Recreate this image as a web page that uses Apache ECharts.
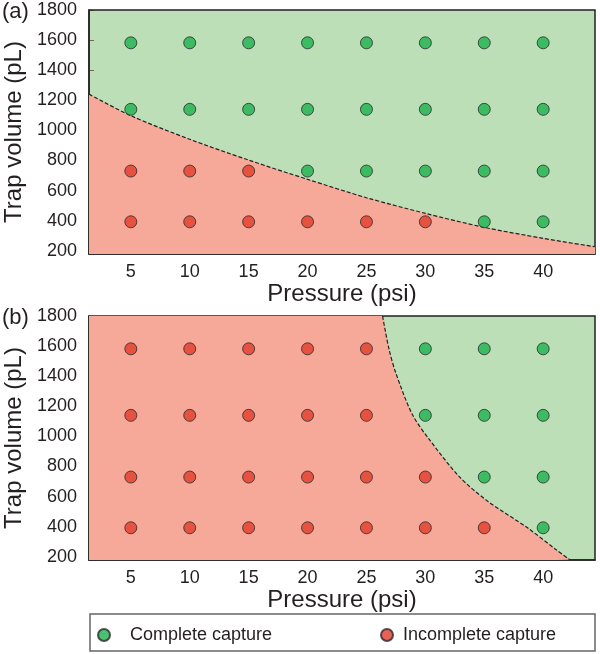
<!DOCTYPE html>
<html>
<head>
<meta charset="utf-8">
<script src="https://cdn.jsdelivr.net/npm/echarts@6/dist/echarts.min.js"></script>
<style>
html,body{margin:0;padding:0;background:#fff;}
#chart{width:600px;height:654px;}
</style>
</head>
<body>
<div id="chart"></div>
<script>
// ---- data ----
const pressures = [5, 10, 15, 20, 25, 30, 35, 40];
const volumes = [393, 730, 1140, 1582];
const xTicks = [5, 10, 15, 20, 25, 30, 35, 40];
const yTicks = [200, 400, 600, 800, 1000, 1200, 1400, 1600, 1800];
// 1 = complete capture, 0 = incomplete; rows follow volumes, columns follow pressures
const captureA = [
  [0, 0, 0, 0, 0, 0, 1, 1],
  [0, 0, 0, 1, 1, 1, 1, 1],
  [1, 1, 1, 1, 1, 1, 1, 1],
  [1, 1, 1, 1, 1, 1, 1, 1]
];
const captureB = [
  [0, 0, 0, 0, 0, 0, 0, 1],
  [0, 0, 0, 0, 0, 0, 1, 1],
  [0, 0, 0, 0, 0, 1, 1, 1],
  [0, 0, 0, 0, 0, 1, 1, 1]
];
// boundary curves
const boundaryAx = [1.45, 5, 10, 15, 20, 25, 30, 35, 40, 44.4];
const boundaryAy = [1241, 1098, 941, 803, 675, 553, 449, 356, 283, 227];
const boundaryBx = [26.37, 26.9, 27.5, 28.9, 30.38, 32.9, 35.2, 38.7, 41.14, 42.27];
const boundaryBy = [1800, 1585, 1420, 1145, 975, 731, 575, 391, 245, 180];
// incomplete-capture region of (b) left of where the boundary meets the top edge
const plateauBx = [1.45, 26.37, 26.9];
const plateauBy = [1800, 1800, 1585];

const xMin = 1.45, xMax = 44.4, yMin = 179, yMax = 1800;
const GREEN_BG = '#bcdfb8', RED_BG = '#f6a998';
const GREEN = '#1bb14c', RED = '#e23b2b';
const FONT = 'Liberation Sans, Arial, Helvetica, sans-serif';
const TXT = '#231f20';

function points(capture, flag) {
  const out = [];
  capture.forEach((row, i) => row.forEach((c, j) => { if (c === flag) out.push([pressures[j], volumes[i]]); }));
  return out;
}
function zip(xs, ys) { return xs.map((x, i) => [x, ys[i]]); }

const grids = [
  {left: 89, top: 10, width: 506, height: 244},
  {left: 89, top: 316, width: 506, height: 244}
];

function xAxis(idx) {
  return {
    type: 'value', gridIndex: idx, min: xMin, max: xMax,
    name: 'Pressure (psi)', nameLocation: 'middle', nameGap: 26,
    nameTextStyle: {fontFamily: FONT, fontSize: 24, color: TXT},
    axisLine: {show: true, onZero: false, lineStyle: {color: '#222', width: 1.5}},
    axisTick: {show: true, inside: true, length: 5, customValues: xTicks, lineStyle: {color: 'rgba(60,30,20,0.6)', width: 1}},
    axisLabel: {customValues: xTicks, fontFamily: FONT, fontSize: 18, color: TXT, margin: 9, formatter: v => String(v)},
    splitLine: {show: false}
  };
}
function yAxis(idx) {
  return {
    type: 'value', gridIndex: idx, min: yMin, max: yMax,
    name: 'Trap volume (pL)', nameLocation: 'middle', nameGap: 48,
    nameTextStyle: {fontFamily: FONT, fontSize: 24, color: TXT},
    axisLine: {show: true, onZero: false, lineStyle: {color: '#222', width: 1.5}},
    axisTick: {show: true, inside: true, length: 5, customValues: yTicks, lineStyle: {color: 'rgba(60,30,20,0.6)', width: 1}},
    axisLabel: {customValues: yTicks, fontFamily: FONT, fontSize: 18, color: TXT, margin: 12, formatter: v => String(v)},
    splitLine: {show: false}
  };
}

function panelSeries(idx, capture, bx, by, px, py) {
  const s = [
    {
      type: 'line', xAxisIndex: idx, yAxisIndex: idx, data: zip(bx, by),
      smooth: 0.3, symbol: 'none', silent: true,
      lineStyle: {color: '#222', width: 1.2, type: [4, 2]},
      areaStyle: {color: RED_BG, opacity: 1, origin: 'start'},
      z: 2
    },
    {
      name: 'Complete capture', type: 'scatter', xAxisIndex: idx, yAxisIndex: idx,
      data: points(capture, 1), symbolSize: 12,
      itemStyle: {color: GREEN, borderColor: '#2a2a2a', borderWidth: 1}, z: 5
    },
    {
      name: 'Incomplete capture', type: 'scatter', xAxisIndex: idx, yAxisIndex: idx,
      data: points(capture, 0), symbolSize: 12,
      itemStyle: {color: RED, borderColor: '#2a2a2a', borderWidth: 1}, z: 5
    }
  ];
  if (px) {
    s.push({
      type: 'line', xAxisIndex: idx, yAxisIndex: idx, data: zip(px, py),
      symbol: 'none', silent: true, lineStyle: {width: 0},
      areaStyle: {color: RED_BG, opacity: 1, origin: 'start'}, z: 1
    });
  }
  return s;
}

const chart = echarts.init(document.getElementById('chart'), null, {renderer: 'canvas'});
chart.setOption({
  animation: false,
  backgroundColor: '#fff',
  grid: grids.map(g => Object.assign({show: true, backgroundColor: GREEN_BG, borderColor: '#222', borderWidth: 1.5, outerBoundsMode: 'none', containLabel: false}, g)),
  xAxis: [xAxis(0), xAxis(1)],
  yAxis: [yAxis(0), yAxis(1)],
  legend: [
    {data: ['Complete capture'], left: 92, top: 621, icon: 'circle', itemWidth: 42, itemHeight: 12, itemGap: 0,
     textStyle: {fontFamily: FONT, fontSize: 18, color: TXT}, selectedMode: false},
    {data: ['Incomplete capture'], left: 375, top: 621, icon: 'circle', itemWidth: 22, itemHeight: 12, itemGap: 0,
     textStyle: {fontFamily: FONT, fontSize: 18, color: TXT}, selectedMode: false}
  ],
  graphic: [
    {type: 'text', left: 2, top: 1, style: {text: '(a)', font: '22px ' + FONT, fill: TXT}},
    {type: 'text', left: 2, top: 307, style: {text: '(b)', font: '22px ' + FONT, fill: TXT}},
    {type: 'rect', shape: {x: 90, y: 614, width: 505, height: 37}, style: {fill: 'none', stroke: '#666', lineWidth: 1.5}, silent: true}
  ],
  series: panelSeries(0, captureA, boundaryAx, boundaryAy)
    .concat(panelSeries(1, captureB, boundaryBx, boundaryBy, plateauBx, plateauBy))
});
</script>
</body>
</html>
